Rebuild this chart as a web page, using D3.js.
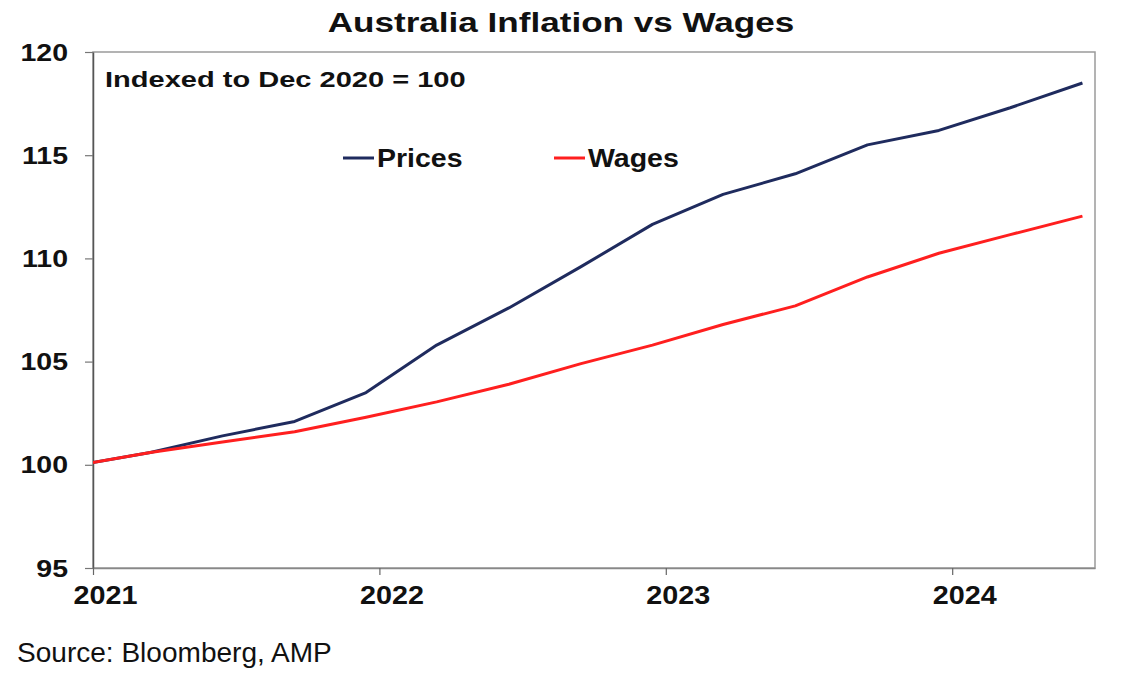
<!DOCTYPE html>
<html>
<head>
<meta charset="utf-8">
<script src="https://cdn.jsdelivr.net/npm/d3@7"></script>
<style>
  html, body { margin: 0; padding: 0; background: #fff; }
  svg { display: block; }
  text { font-family: 'Liberation Sans', Arial, sans-serif; fill: #111; }
</style>
</head>
<body>
<svg id="chart"></svg>
<script>
// quarter labels, plotted mid-month of the quarter's last month
const quarters = ['Dec 2020', 'Mar 2021', 'Jun 2021', 'Sep 2021', 'Dec 2021', 'Mar 2022', 'Jun 2022',
  'Sep 2022', 'Dec 2022', 'Mar 2023', 'Jun 2023', 'Sep 2023', 'Dec 2023', 'Mar 2024', 'Jun 2024']
const prices = [100.0, 100.6, 101.4, 102.1, 103.5, 105.8, 107.6, 109.6, 111.65, 113.1, 114.1, 115.5, 116.2, 117.3, 118.5]
const wages = [100.0, 100.6, 101.1, 101.6, 102.3, 103.05, 103.9, 104.9, 105.8, 106.8, 107.7, 109.1, 110.25, 111.15, 112.05]
const yTicks = [95, 100, 105, 110, 115, 120]
const seriesNames = ['Prices', 'Wages']

const width = 1124
const height = 689
const box = { left: 93, right: 1095, top: 52, bottom: 568 }
const colors = { Prices: '#1f2b5e', Wages: '#ff1f1f' }

const parseQ = d3.timeParse('%b %Y')
const dates = quarters.map(q => d3.timeDay.offset(parseQ(q), 14))

const svg = d3.select('#chart')
  .attr('width', width)
  .attr('height', height)

const x = d3.scaleTime()
  .domain([new Date(2021, 0, 1), new Date(2024, 6, 1)])
  .range([box.left, box.right])

const y = d3.scaleLinear()
  .domain([95, 120])
  .range([box.bottom, box.top])

// horizontally stretched labels, like the source image
const stretch = (sel, sx) => sel.attr('transform', `scale(${sx},1)`)

// title
svg.append('text')
  .attr('transform', `translate(561,32) scale(1.3,1)`)
  .attr('text-anchor', 'middle')
  .style('font-size', '27px')
  .style('font-weight', 'bold')
  .text('Australia Inflation vs Wages')

// frame
svg.append('rect')
  .attr('x', box.left)
  .attr('y', box.top)
  .attr('width', box.right - box.left)
  .attr('height', box.bottom - box.top)
  .attr('fill', 'none')
  .attr('stroke', '#9a9a9a')
  .attr('stroke-width', 1.5)

// y axis
const yAxis = svg.append('g')
  .attr('transform', `translate(${box.left},0)`)
  .call(d3.axisLeft(y).tickValues(yTicks).tickSize(8).tickSizeOuter(0))
yAxis.select('.domain').attr('stroke', '#555').attr('stroke-width', 1.5)
yAxis.selectAll('.tick line').attr('stroke', '#777').attr('stroke-width', 1.2)
yAxis.selectAll('.tick text')
  .call(stretch, 1.24)
  .attr('x', -25 / 1.24)
  .attr('dy', '0.35em')
  .style('font-size', '23px')
  .style('font-weight', 'bold')
  .attr('fill', '#111')

// x axis
const xAxis = svg.append('g')
  .attr('transform', `translate(0,${box.bottom})`)
  .call(d3.axisBottom(x)
    .ticks(d3.timeYear.every(1))
    .tickFormat(d3.timeFormat('%Y'))
    .tickSize(7)
    .tickSizeOuter(0))
xAxis.select('.domain').attr('stroke', '#888').attr('stroke-width', 1.5)
xAxis.selectAll('.tick line').attr('stroke', '#666').attr('stroke-width', 1.2)
xAxis.selectAll('.tick text')
  .call(stretch, 1.15)
  .attr('x', 12 / 1.15)
  .attr('y', 36)
  .attr('dy', 0)
  .style('font-size', '25px')
  .style('font-weight', 'bold')
  .attr('fill', '#111')

// lines
svg.append('clipPath')
  .attr('id', 'plot-clip')
  .append('rect')
  .attr('x', box.left)
  .attr('y', box.top)
  .attr('width', box.right - box.left)
  .attr('height', box.bottom - box.top)

const line = d3.line()
  .x((d, i) => x(dates[i]))
  .y(d => y(d))

const series = [
  { name: 'Prices', values: prices },
  { name: 'Wages', values: wages }
]

svg.append('g')
  .attr('clip-path', 'url(#plot-clip)')
  .selectAll('path')
  .data(series)
  .enter().append('path')
  .attr('d', d => line(d.values))
  .attr('fill', 'none')
  .attr('stroke', d => colors[d.name])
  .attr('stroke-width', 3)
  .attr('stroke-linejoin', 'round')

// subtitle inside plot
svg.append('text')
  .attr('transform', 'translate(105,87) scale(1.32,1)')
  .style('font-size', '22px')
  .style('font-weight', 'bold')
  .text('Indexed to Dec 2020 = 100')

// legend
const legendX = [343, 554]
const legend = svg.selectAll('.legend')
  .data(seriesNames)
  .enter().append('g')
  .attr('class', 'legend')
  .attr('transform', (d, i) => `translate(${legendX[i]},158)`)

legend.append('line')
  .attr('x1', 0)
  .attr('x2', 31)
  .attr('stroke', d => colors[d])
  .attr('stroke-width', 3)

legend.append('text')
  .attr('transform', 'translate(34,8.5) scale(1.14,1)')
  .style('font-size', '25px')
  .style('font-weight', 'bold')
  .text(d => d)

// source
svg.append('text')
  .attr('transform', 'translate(17,662) scale(1.02,1)')
  .style('font-size', '27.5px')
  .text('Source: Bloomberg, AMP')
</script>
</body>
</html>
